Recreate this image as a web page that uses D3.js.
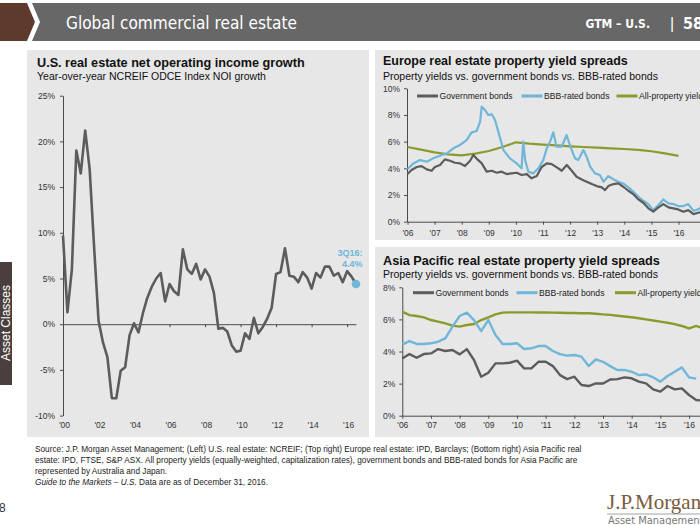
<!DOCTYPE html>
<html><head><meta charset="utf-8">
<script src="https://cdn.jsdelivr.net/npm/d3@7"></script>
<style>
body{margin:0;background:#fff;}
svg{display:block;font-family:"Liberation Sans",Arial,sans-serif;}
</style>
</head><body>
<svg id="c" width="700" height="525"></svg>
<script>
// ---------- DATA ----------
// Left: U.S. NCREIF ODCE NOI growth, quarterly 1Q00 .. 3Q16 (%)
const usValues = [9.7, 1.3, 6.0, 19.0, 16.5, 21.2, 17.0, 8.5, 0.4, -2.0, -3.6, -8.1, -8.1, -5.1, -4.7, -1.2,
  0.1, -0.9, 1.2, 2.9, 4.1, 5.0, 5.6, 2.5, 4.4, 3.6, 3.2, 8.2, 6.0, 5.5, 6.6, 4.9,
  6.0, 5.2, 3.4, -0.5, -0.4, -0.8, -2.3, -3.0, -2.9, -1.0, -1.6, 0.7, -1.0, -0.3, 0.6, 1.8,
  5.5, 5.7, 8.3, 5.3, 5.2, 4.6, 5.7, 5.1, 3.9, 5.6, 5.1, 6.3, 6.3, 5.3, 5.6, 4.6,
  5.8, 5.2, 4.4];
const usTickIdx = [0, 8, 16, 24, 32, 40, 48, 56, 64];
const usXLabels = ["'00", "'02", "'04", "'06", "'08", "'10", "'12", "'14", "'16"];
const usYTicks = [-10, -5, 0, 5, 10, 15, 20, 25];
const usLastLabel = ["3Q16:", "4.4%"];

// Top right: Europe yields (%)
const euGovYears = [2006.00, 2006.15, 2006.34, 2006.52, 2006.71, 2006.89, 2007.01, 2007.20, 2007.38, 2007.57, 2007.75, 2007.94,
  2008.12, 2008.31, 2008.43, 2008.58, 2008.74, 2008.92, 2009.11, 2009.29, 2009.47, 2009.66, 2009.84, 2010.03,
  2010.21, 2010.40, 2010.58, 2010.77, 2010.95, 2011.14, 2011.32, 2011.51, 2011.69, 2011.88, 2012.06, 2012.24,
  2012.43, 2012.61, 2012.80, 2012.98, 2013.17, 2013.29, 2013.41, 2013.60, 2013.78, 2013.96, 2014.15, 2014.33,
  2014.52, 2014.70, 2014.89, 2015.07, 2015.26, 2015.44, 2015.63, 2015.81, 2015.99, 2016.18, 2016.36, 2016.55,
  2016.73, 2016.85];
const euGovValues = [3.57, 3.88, 4.10, 4.17, 3.92, 3.82, 4.10, 4.25, 4.67, 4.57, 4.42, 4.37,
  4.17, 4.57, 5.00, 4.67, 4.37, 3.75, 3.82, 3.67, 3.75, 3.57, 3.62, 3.67,
  3.50, 3.57, 3.25, 3.42, 4.10, 4.37, 4.32, 4.07, 3.82, 4.25, 3.82, 3.37,
  3.17, 3.00, 2.82, 2.67, 2.57, 2.37, 2.67, 2.82, 2.87, 2.62, 2.32, 2.07,
  1.67, 1.42, 1.00, 0.75, 1.07, 1.32, 1.07, 1.00, 0.92, 0.75, 0.87, 0.57,
  0.67, 0.72];
const euBbbYears = [2006.00, 2006.22, 2006.46, 2006.71, 2006.95, 2007.20, 2007.45, 2007.69, 2007.94, 2008.18, 2008.37, 2008.55,
  2008.68, 2008.74, 2008.86, 2008.98, 2009.11, 2009.23, 2009.35, 2009.54, 2009.78, 2010.03, 2010.21, 2010.27,
  2010.34, 2010.46, 2010.64, 2010.83, 2011.01, 2011.14, 2011.26, 2011.38, 2011.50, 2011.69, 2011.87, 2011.99,
  2012.18, 2012.30, 2012.49, 2012.61, 2012.74, 2012.92, 2013.10, 2013.23, 2013.41, 2013.60, 2013.78, 2013.96,
  2014.15, 2014.33, 2014.52, 2014.70, 2014.89, 2015.07, 2015.26, 2015.44, 2015.63, 2015.81, 2015.99, 2016.18,
  2016.36, 2016.55, 2016.73, 2016.85];
const euBbbValues = [3.95, 4.37, 4.62, 4.50, 4.75, 4.95, 5.12, 5.50, 5.75, 6.12, 6.70, 6.80,
  7.50, 8.62, 8.37, 8.00, 8.05, 7.62, 6.75, 5.37, 4.75, 4.37, 4.00, 6.00,
  4.62, 3.75, 3.62, 4.00, 4.62, 5.50, 6.00, 6.70, 5.62, 5.62, 6.50, 5.75,
  4.75, 4.62, 5.37, 4.87, 4.12, 3.62, 3.50, 3.00, 3.42, 3.17, 3.00, 2.87,
  2.57, 2.25, 1.87, 1.57, 1.32, 0.87, 1.25, 1.67, 1.37, 1.32, 1.17, 1.17,
  1.32, 0.82, 0.92, 1.10];
const euPropYears = [2006.0, 2006.5, 2007.0, 2007.5, 2008.0, 2008.5, 2009.0, 2009.5, 2010.0, 2010.5, 2011.0,
  2011.5, 2012.0, 2012.5, 2013.0, 2013.5, 2014.0, 2014.5, 2015.0, 2015.5, 2016.0];
const euPropValues = [5.60, 5.40, 5.20, 5.05, 4.97, 5.10, 5.30, 5.60, 5.95, 5.85, 5.78,
  5.72, 5.65, 5.60, 5.55, 5.50, 5.45, 5.38, 5.28, 5.12, 4.93];
const euXYears = [2006, 2007, 2008, 2009, 2010, 2011, 2012, 2013, 2014, 2015, 2016];
const euXLabels = ["'06", "'07", "'08", "'09", "'10", "'11", "'12", "'13", "'14", "'15", "'16"];
const euYTicks = [0, 2, 4, 6, 8, 10];

// Bottom right: Asia Pacific yields, quarterly from 1Q06 (%)
const apGovValues = [3.57, 3.84, 3.61, 3.84, 3.88, 4.15, 4.03, 4.09, 3.82, 4.15, 3.47, 2.43, 2.68, 3.26, 3.26, 3.30,
  3.43, 2.95, 2.95, 3.36, 3.36, 3.09, 2.53, 2.28, 2.43, 1.91, 1.85, 2.01, 2.01, 2.26, 2.28, 2.39,
  2.33, 2.12, 2.01, 1.64, 1.50, 1.85, 1.64, 1.70, 1.29, 0.98, 0.93];
const apBbbValues = [4.44, 4.65, 4.47, 4.47, 4.51, 4.61, 4.82, 5.55, 6.21, 6.42, 5.96, 5.27, 5.96, 5.03, 4.47, 4.47,
  4.51, 4.16, 4.20, 4.34, 4.34, 4.03, 3.84, 3.74, 3.78, 3.68, 3.09, 3.51, 3.36, 3.09, 2.85, 2.85,
  2.74, 2.53, 2.57, 2.39, 2.12, 2.47, 2.74, 3.01, 2.39, 2.31];
const apPropValues = [6.48, 6.27, 6.21, 6.13, 5.96, 5.86, 5.75, 5.61, 5.55, 5.65, 5.71, 5.96, 6.13, 6.31, 6.42, 6.44,
  6.44, 6.44, 6.44, 6.43, 6.44, 6.42, 6.41, 6.40, 6.40, 6.38, 6.38, 6.35, 6.31, 6.28, 6.23, 6.18,
  6.13, 6.07, 6.00, 5.93, 5.86, 5.79, 5.71, 5.59, 5.44, 5.59, 5.44];
const apXQuarters = [0, 4, 8, 12, 16, 20, 24, 28, 32, 36, 40];
const apXLabels = ["'06", "'07", "'08", "'09", "'10", "'11", "'12", "'13", "'14", "'15", "'16"];
const apYTicks = [0, 2, 4, 6, 8];

const legendNames = ["Government bonds", "BBB-rated bonds", "All-property yields"];

// ---------- STYLE ----------
const C = {gov: "#5c5c5c", bbb: "#6fb6d9", prop: "#8c9a2c", panel: "#e7e7e7", axis: "#4a4a4a", text: "#222"};
const svg = d3.select("#c");

function fitWidth(sel, w) {
  const len = sel.node().getComputedTextLength();
  const fs = parseFloat(sel.attr("font-size"));
  const nfs = fs * w / len;
  sel.attr("font-size", nfs);
  return nfs;
}

// ---------- HEADER ----------
svg.append("rect").attr("x", 0).attr("y", 3).attr("width", 700).attr("height", 38).attr("fill", "#676767");
svg.append("polygon").attr("points", "0,3 27,3 35,22 27,41 0,41").attr("fill", "#5d3a2c");
svg.append("polygon").attr("points", "27,3 32,3 40,22 32,41 27,41 35,22").attr("fill", "#ffffff");
const ht = svg.append("text").attr("x", 66).attr("y", 29).attr("fill", "#fff")
  .attr("font-family", "'Liberation Sans Narrow','DejaVu Sans Condensed',sans-serif")
  .attr("font-size", 18).text("Global commercial real estate");
fitWidth(ht, 231);
svg.append("text").attr("x", 650).attr("y", 28).attr("fill", "#fff").attr("text-anchor", "end")
  .attr("font-family", "'Liberation Sans Narrow','DejaVu Sans Condensed',sans-serif")
  .attr("font-weight", "bold").attr("font-size", 12).text("GTM – U.S.");
svg.append("text").attr("x", 672).attr("y", 29).attr("fill", "#fff").attr("text-anchor", "middle")
  .attr("font-size", 16).text("|");
svg.append("text").attr("x", 683).attr("y", 29).attr("fill", "#fff")
  .attr("font-family", "'Liberation Sans Narrow','DejaVu Sans Condensed',sans-serif")
  .attr("font-weight", "bold").attr("font-size", 16).text("58");

// ---------- SIDE TAB ----------
svg.append("rect").attr("x", 0).attr("y", 262).attr("width", 12).attr("height", 123).attr("fill", "#4a3f3c");
svg.append("text").attr("transform", "translate(9.5,323) rotate(-90)").attr("text-anchor", "middle")
  .attr("fill", "#fff").attr("font-size", 12).text("Asset Classes");

// ---------- PANELS ----------
svg.append("rect").attr("x", 27).attr("y", 50).attr("width", 342).attr("height", 387).attr("fill", C.panel);
svg.append("rect").attr("x", 375).attr("y", 50).attr("width", 330).attr("height", 190).attr("fill", C.panel);
svg.append("rect").attr("x", 375).attr("y", 247).attr("width", 330).attr("height", 190).attr("fill", C.panel);

function titles(x, y1, t1, w1, y2, t2, w2) {
  const a = svg.append("text").attr("x", x).attr("y", y1).attr("font-weight", "bold").attr("fill", "#111")
    .attr("font-size", 14).text(t1);
  fitWidth(a, w1);
  const b = svg.append("text").attr("x", x).attr("y", y2).attr("fill", "#111").attr("font-size", 11).text(t2);
  fitWidth(b, w2);
}
titles(37, 66.5, "U.S. real estate net operating income growth", 268, 79.5, "Year-over-year NCREIF ODCE Index NOI growth", 229);
titles(383, 65, "Europe real estate property yield spreads", 245, 80, "Property yields vs. government bonds vs. BBB-rated bonds", 275);
titles(383, 265, "Asia Pacific real estate property yield spreads", 277, 277.5, "Property yields vs. government bonds vs. BBB-rated bonds", 275);

function styleAxis(g) {
  g.selectAll("path.domain").attr("stroke", C.axis).attr("stroke-width", 1);
  g.selectAll(".tick line").attr("stroke", C.axis);
  g.selectAll(".tick text").attr("fill", "#333").attr("font-size", 8.5)
    .attr("font-family", "'Liberation Sans',Arial,sans-serif");
}

// ---------- LEFT CHART ----------
const xUS = d3.scaleLinear().domain([0, usValues.length - 1]).range([63, 356]);
const yUS = d3.scaleLinear().domain([-10, 25]).range([415.6, 95.7]);

svg.append("g").attr("transform", "translate(63,0)")
  .call(d3.axisLeft(yUS).tickValues(usYTicks).tickFormat(d => d + "%").tickSize(3).tickSizeOuter(0).tickPadding(5))
  .call(styleAxis);
svg.append("g").attr("transform", `translate(0,${yUS(0)})`)
  .call(d3.axisBottom(xUS).tickValues(usTickIdx.slice(1)).tickFormat("").tickSize(3).tickSizeOuter(0))
  .call(styleAxis);
svg.append("g").attr("transform", `translate(1,${yUS(-10)})`)
  .call(d3.axisBottom(xUS).tickValues(usTickIdx).tickFormat((d, i) => usXLabels[i]).tickSize(0).tickPadding(6.5))
  .call(styleAxis).call(g => g.select(".domain").remove());

svg.append("path").datum(usValues)
  .attr("d", d3.line().x((d, i) => xUS(i)).y(d => yUS(d)))
  .attr("fill", "none").attr("stroke", C.gov).attr("stroke-width", 2.6).attr("stroke-linejoin", "round");
const lastI = usValues.length - 1;
svg.append("circle").attr("cx", xUS(lastI)).attr("cy", yUS(usValues[lastI])).attr("r", 4.3).attr("fill", C.bbb);
svg.append("text").attr("x", 362.5).attr("y", 255.7).attr("text-anchor", "end").attr("fill", C.bbb)
  .attr("font-weight", "bold").attr("font-size", 9).text(usLastLabel[0]);
svg.append("text").attr("x", 362.5).attr("y", 267.3).attr("text-anchor", "end").attr("fill", C.bbb)
  .attr("font-weight", "bold").attr("font-size", 9).text(usLastLabel[1]);

// ---------- LEGEND ----------
function legend(y, xs) {
  const cols = [C.gov, C.bbb, C.prop];
  legendNames.forEach((n, i) => {
    svg.append("line").attr("x1", xs[i]).attr("x2", xs[i] + 21).attr("y1", y).attr("y2", y)
      .attr("stroke", cols[i]).attr("stroke-width", 3);
    svg.append("text").attr("x", xs[i] + 22.5).attr("y", y + 3.1).attr("fill", C.text)
      .attr("font-size", 8.6).text(n);
  });
}

// ---------- EUROPE ----------
const xEU = d3.scaleLinear().domain([2006, 2017]).range([407.5, 705.6]);
const yEU = d3.scaleLinear().domain([0, 10]).range([221.7, 88.3]);
svg.append("g").attr("transform", "translate(407,0)")
  .call(d3.axisLeft(yEU).tickValues(euYTicks).tickFormat(d => d + "%").tickSize(3).tickSizeOuter(0).tickPadding(4))
  .call(styleAxis);
svg.append("g").attr("transform", `translate(0,${yEU(0)})`)
  .call(d3.axisBottom(xEU).tickValues(euXYears).tickFormat((d, i) => euXLabels[i]).tickSize(3).tickSizeOuter(0).tickPadding(5.5))
  .call(styleAxis);
legend(96, [417, 521.5, 616.5]);
const euLine = (ys, vs) => d3.line().x((d, i) => xEU(ys[i])).y(d => yEU(d))(vs);
svg.append("path").attr("d", euLine(euPropYears, euPropValues)).attr("fill", "none")
  .attr("stroke", C.prop).attr("stroke-width", 2.2);
svg.append("path").attr("d", euLine(euBbbYears, euBbbValues)).attr("fill", "none")
  .attr("stroke", C.bbb).attr("stroke-width", 2.2).attr("stroke-linejoin", "round");
svg.append("path").attr("d", euLine(euGovYears, euGovValues)).attr("fill", "none")
  .attr("stroke", C.gov).attr("stroke-width", 2.2).attr("stroke-linejoin", "round");

// ---------- ASIA PACIFIC ----------
const xAP = d3.scaleLinear().domain([0, 44]).range([402.3, 717.7]);
const yAP = d3.scaleLinear().domain([0, 8]).range([415.7, 287.3]);
svg.append("g").attr("transform", "translate(402.3,0)")
  .call(d3.axisLeft(yAP).tickValues(apYTicks).tickFormat(d => d + "%").tickSize(3).tickSizeOuter(0).tickPadding(4))
  .call(styleAxis);
svg.append("g").attr("transform", `translate(0,${yAP(0)})`)
  .call(d3.axisBottom(xAP).tickValues(apXQuarters).tickFormat((d, i) => apXLabels[i]).tickSize(3).tickSizeOuter(0).tickPadding(3.5))
  .call(styleAxis);
legend(292.7, [413, 516.5, 615]);
const apLine = d3.line().x((d, i) => xAP(i)).y(d => yAP(d));
svg.append("path").attr("d", apLine(apPropValues)).attr("fill", "none").attr("stroke", C.prop).attr("stroke-width", 2.4);
svg.append("path").attr("d", apLine(apBbbValues)).attr("fill", "none").attr("stroke", C.bbb).attr("stroke-width", 2.4).attr("stroke-linejoin", "round");
svg.append("path").attr("d", apLine(apGovValues)).attr("fill", "none").attr("stroke", C.gov).attr("stroke-width", 2.4).attr("stroke-linejoin", "round");

// ---------- FOOTER ----------
const f1 = svg.append("text").attr("x", 35).attr("y", 452).attr("fill", C.text).attr("font-size", 8.5)
  .text("Source: J.P. Morgan Asset Management; (Left) U.S. real estate: NCREIF; (Top right) Europe real estate: IPD, Barclays; (Bottom right) Asia Pacific real");
const ffs = fitWidth(f1, 547);
svg.append("text").attr("x", 35).attr("y", 463).attr("fill", C.text).attr("font-size", ffs)
  .text("estate: IPD, FTSE, S&P ASX. All property yields (equally-weighted, capitalization rates), government bonds and BBB-rated bonds for Asia Pacific are");
svg.append("text").attr("x", 35).attr("y", 474).attr("fill", C.text).attr("font-size", ffs)
  .text("represented by Australia and Japan.");
const f4 = svg.append("text").attr("x", 35).attr("y", 485).attr("fill", C.text).attr("font-size", ffs);
f4.append("tspan").attr("font-style", "italic").text("Guide to the Markets – U.S.");
f4.append("tspan").text(" Data are as of December 31, 2016.");

// page number & logo
svg.append("text").attr("x", -1).attr("y", 512).attr("fill", "#333").attr("font-size", 12).text("8");
svg.append("text").attr("x", 607).attr("y", 509).attr("fill", "#7a5a3c")
  .attr("font-family", "'Liberation Serif','DejaVu Serif',serif").attr("font-size", 21).text("J.P.Morgan");
svg.append("line").attr("x1", 607).attr("x2", 700).attr("y1", 514).attr("y2", 514).attr("stroke", "#8a8a8a").attr("stroke-width", 0.8);
svg.append("text").attr("x", 608).attr("y", 524).attr("fill", "#777")
  .attr("font-family", "'Liberation Sans Narrow','DejaVu Sans Condensed',sans-serif").attr("font-size", 11).text("Asset Management");
</script>
</body></html>
